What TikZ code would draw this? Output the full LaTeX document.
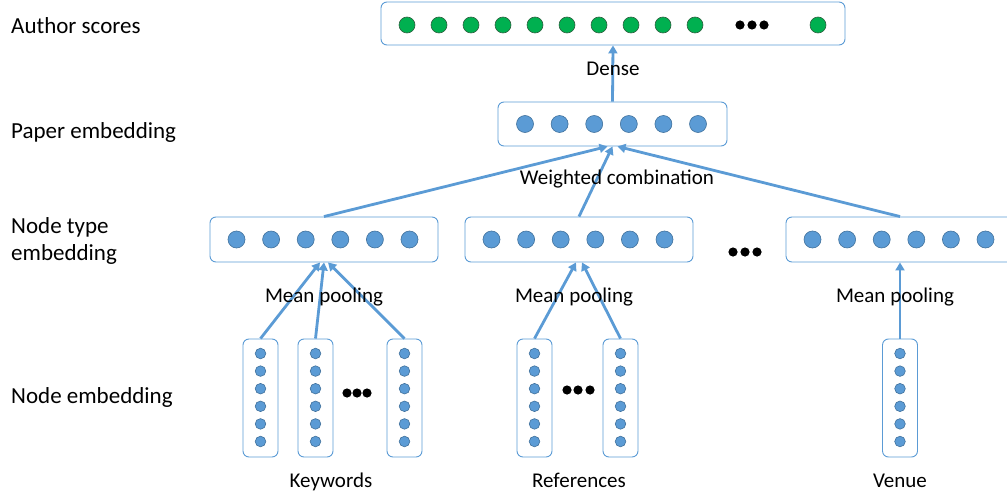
\documentclass[tikz,border=0pt]{standalone}
\usepackage{fontspec}
\setmainfont{Carlito}
\usetikzlibrary{arrows.meta}
\definecolor{embBlue}{HTML}{5B9BD5}
\definecolor{embEdge}{HTML}{41719C}
\definecolor{scoreGreen}{HTML}{00B050}
\definecolor{scoreEdge}{HTML}{2F6040}
\begin{document}
\begin{tikzpicture}[x=1pt, y=-1pt,
  rowbox/.style={draw=embBlue, line width=0.9pt, rounded corners=6pt, inner sep=0pt, minimum width=228pt, minimum height=45pt},
  colbox/.style={draw=embBlue, line width=0.9pt, rounded corners=6pt, inner sep=0pt, minimum width=35pt, minimum height=118pt},
  flow/.style={draw=embBlue, line width=2.8pt, -{Triangle[length=8pt,width=9pt]}},
  sidelabel/.style={anchor=base west, inner sep=0pt, font=\fontsize{23}{27}\selectfont},
  oplabel/.style={anchor=base, inner sep=0pt, font=\fontsize{21}{25}\selectfont},
  embdot/.style={fill=embBlue, draw=embEdge, line width=0.6pt},
  scoredot/.style={fill=scoreGreen, draw=scoreEdge, line width=0.6pt}]
\useasboundingbox (0,0) rectangle (1007,495);
% Layer names on the left
\node[sidelabel] (lblScores) at (11,34) {Author scores};
\node[sidelabel] (lblPaper) at (11,138) {Paper embedding};
\node[sidelabel, align=left] (lblType) at (11,260) {Node type\\embedding};
\node[sidelabel] (lblNode) at (11,403) {Node embedding};
% Boxes
\node[draw=embBlue, line width=0.9pt, rounded corners=6pt, inner sep=0pt, minimum width=464pt, minimum height=43pt] (scores) at (613,23.5) {};
\node[rowbox, minimum width=229pt, minimum height=44pt] (paper) at (612.5,124) {};
\node[rowbox] (typeKw) at (324,239.5) {};
\node[rowbox] (typeRef) at (579,239.5) {};
\node[rowbox] (typeVen) at (900,239.5) {};
\node[colbox] (kwA) at (260.5,398) {};
\node[colbox] (kwB) at (315.5,398) {};
\node[colbox] (kwC) at (404.5,398) {};
\node[colbox] (refA) at (534.5,398) {};
\node[colbox] (refB) at (620.5,398) {};
\node[colbox] (venA) at (900,398) {};
% Dots in the row boxes
\foreach \b in {paper,typeKw,typeRef,typeVen}
  \foreach \i in {0,...,5}
    \path[embdot] ([xshift=-87.5pt+\i*34.6pt]\b.center) circle[radius=8.5pt];
% Dots in the column boxes
\foreach \b in {kwA,kwB,kwC,refA,refB,venA}
  \foreach \j in {0,...,5}
    \path[embdot] ([yshift=44.5pt-\j*17.6pt]\b.center) circle[radius=5.3pt];
% Author scores
\foreach \i in {0,...,9}
  \path[scoredot] (407+\i*32,25) circle[radius=8pt];
\path[scoredot] (818,25) circle[radius=8pt];
% Ellipses
\foreach \x in {740,752,764} \fill (\x,25) circle[radius=4.6pt];
\foreach \x in {733,745,757} \fill (\x,252) circle[radius=4.6pt];
\foreach \x in {347,357,367} \fill (\x,393) circle[radius=4.6pt];
\foreach \x in {567,578,590} \fill (\x,390) circle[radius=4.6pt];
% Connectors
\draw[flow] (paper.north) -- (scores.south);
\draw[flow] (typeKw.north) -- ([xshift=-5pt]paper.south);
\draw[flow] (typeRef.north) -- (paper.south);
\draw[flow] (typeVen.north) -- ([xshift=5pt]paper.south);
\draw[flow] (kwA.north) -- ([xshift=-4pt]typeKw.south);
\draw[flow] (kwB.north) -- (typeKw.south);
\draw[flow] (kwC.north) -- ([xshift=4pt]typeKw.south);
\draw[flow] (refA.north) -- ([xshift=-3pt]typeRef.south);
\draw[flow] (refB.north) -- ([xshift=3pt]typeRef.south);
\draw[flow] (venA.north) -- (typeVen.south);
% Operation labels
\node[oplabel] (opDense) at (613,75) {Dense};
\node[oplabel] (opWeight) at (617,184) {Weighted combination};
\node[oplabel] (opPoolKw) at (324,302) {Mean pooling};
\node[oplabel] (opPoolRef) at (574,302) {Mean pooling};
\node[oplabel] (opPoolVen) at (895,302) {Mean pooling};
% Input names
\node[oplabel] (inKw) at (331,487) {Keywords};
\node[oplabel] (inRef) at (579,487) {References};
\node[oplabel] (inVen) at (900,487) {Venue};
\end{tikzpicture}
\end{document}
